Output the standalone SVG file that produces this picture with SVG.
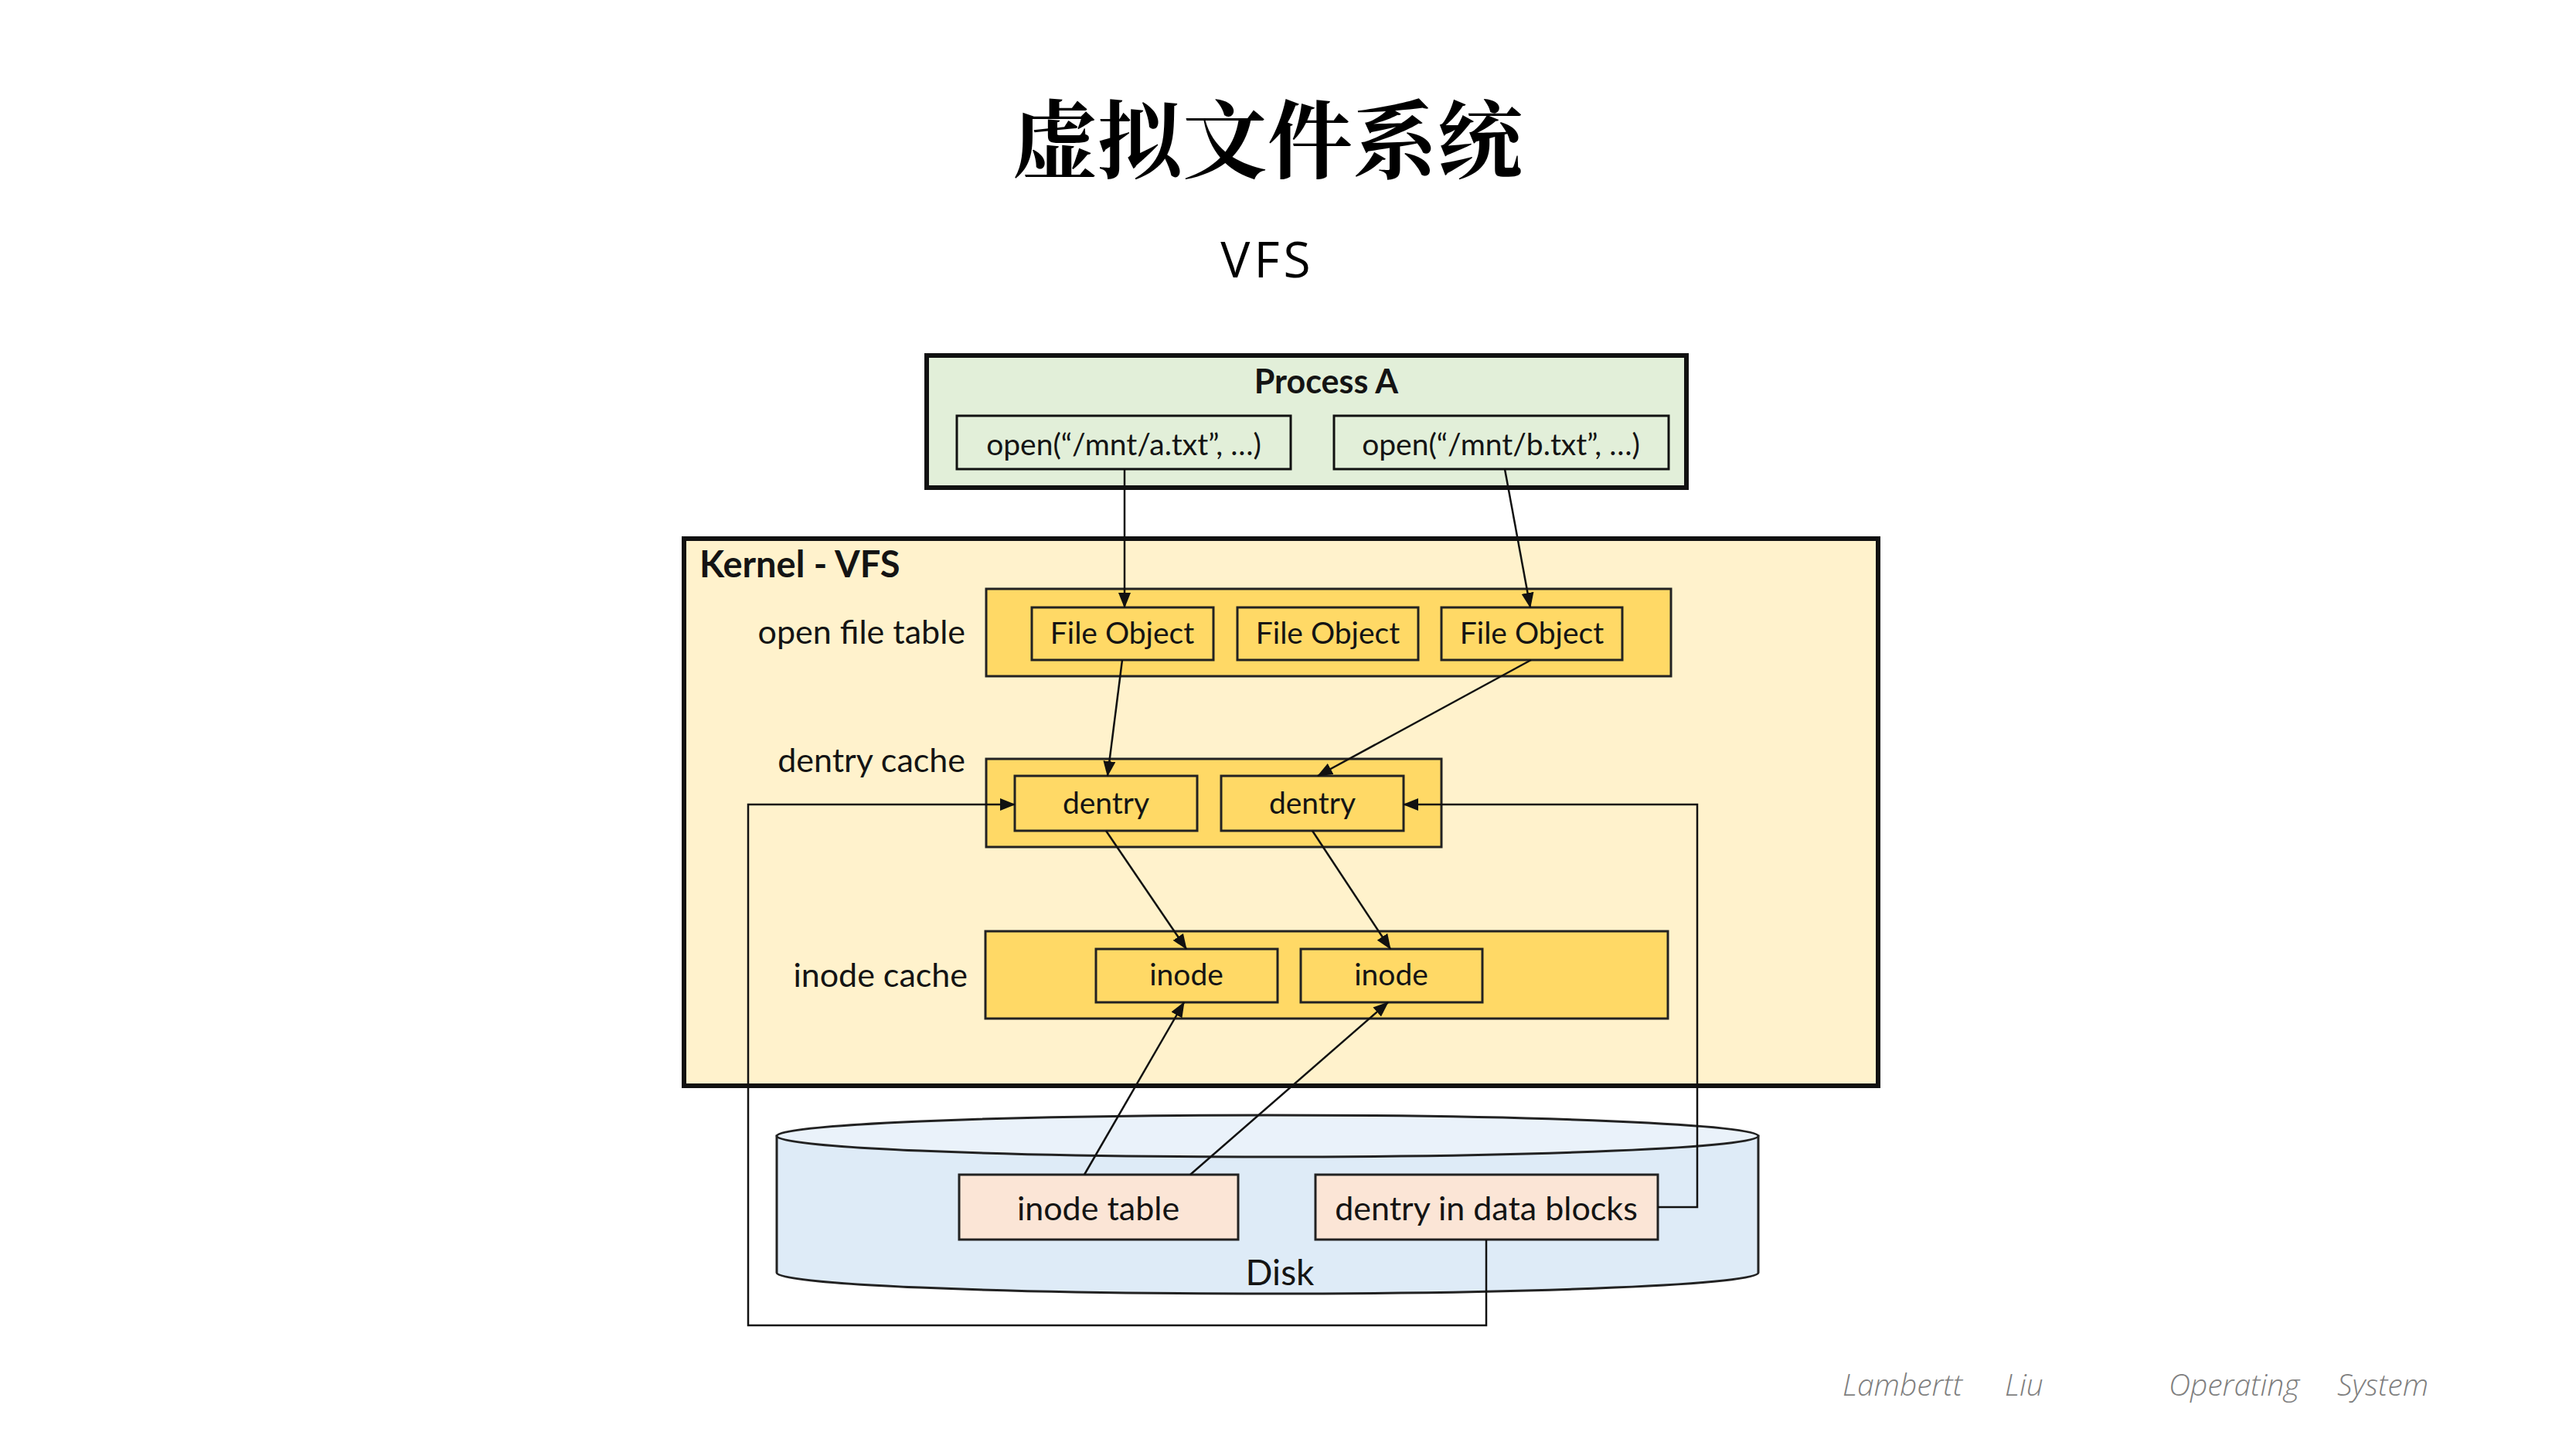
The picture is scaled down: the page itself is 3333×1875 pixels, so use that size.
<svg xmlns="http://www.w3.org/2000/svg" width="3333" height="1875" viewBox="0 0 3333 1875">
<defs>
<marker id="arr" markerUnits="userSpaceOnUse" markerWidth="20" markerHeight="16" viewBox="0 0 20 16" refX="19" refY="8" orient="auto">
<path d="M0,0 L20,8 L0,16 Z" fill="#111"/>
</marker>
</defs>
<style>
.t{font-family:Lato,"Open Sans","Liberation Sans",sans-serif;fill:#141414}
.c{text-anchor:middle}
.lbl{font-size:43px}
.bx{font-size:39px}
.b{font-weight:bold}
.green{fill:#e2efd9;stroke:#111;stroke-width:3}
.gold{fill:#ffd966;stroke:#222;stroke-width:3}
.peach{fill:#fbe5d6;stroke:#222;stroke-width:3}
.con{fill:none;stroke:#111;stroke-width:2.5}
.foot{font-family:"Open Sans","Noto Sans",sans-serif;font-style:italic;font-size:39px;fill:#7f7f7f;font-weight:300}
</style>
<rect width="3333" height="1875" fill="#ffffff"/>

<g id="title">
<text x="1640" y="222" text-anchor="middle" font-family="'Noto Serif CJK SC','Noto Sans CJK SC',serif" font-weight="bold" font-size="110" fill="#000">虚拟文件系统</text>
<text x="1640" y="359" text-anchor="middle" font-family="'Open Sans','Noto Sans',sans-serif" font-size="64" letter-spacing="5" fill="#000">VFS</text>
</g>

<g id="process-a">
<rect x="1199" y="460" width="983" height="171" fill="#e2efd9" stroke="#111" stroke-width="6"/>
<text class="t c b" x="1716" y="509" font-size="43">Process A</text>
</g>
<g id="open-a">
<rect class="green" x="1238" y="538" width="432" height="69"/>
<text class="t c bx" x="1454" y="589">open(“/mnt/a.txt”, …)</text>
</g>
<g id="open-b">
<rect class="green" x="1726" y="538" width="433" height="69"/>
<text class="t c bx" x="1942" y="589">open(“/mnt/b.txt”, …)</text>
</g>

<g id="kernel-vfs">
<rect x="885" y="697" width="1545" height="708" fill="#fff2cc" stroke="#111" stroke-width="6"/>
<text class="t b" x="905" y="747" font-size="47">Kernel - VFS</text>
</g>

<g id="open-file-table">
<text class="t lbl" x="1249" y="833" text-anchor="end">open file table</text>
<rect class="gold" x="1276" y="762" width="886" height="113"/>
</g>
<g id="file-object-1">
<rect class="gold" x="1335" y="786" width="235" height="68"/>
<text class="t c bx" x="1452" y="833">File Object</text>
</g>
<g id="file-object-2">
<rect class="gold" x="1601" y="786" width="234" height="68"/>
<text class="t c bx" x="1718" y="833">File Object</text>
</g>
<g id="file-object-3">
<rect class="gold" x="1865" y="786" width="234" height="68"/>
<text class="t c bx" x="1982" y="833">File Object</text>
</g>

<g id="dentry-cache">
<text class="t lbl" x="1249" y="999" text-anchor="end">dentry cache</text>
<rect class="gold" x="1276" y="982" width="589" height="114"/>
</g>
<g id="dentry-1">
<rect class="gold" x="1313" y="1004" width="236" height="71"/>
<text class="t c bx" x="1431" y="1053">dentry</text>
</g>
<g id="dentry-2">
<rect class="gold" x="1580" y="1004" width="236" height="71"/>
<text class="t c bx" x="1698" y="1053">dentry</text>
</g>

<g id="inode-cache">
<text class="t lbl" x="1252" y="1277" text-anchor="end">inode cache</text>
<rect class="gold" x="1275" y="1205" width="883" height="113"/>
</g>
<g id="inode-1">
<rect class="gold" x="1418" y="1228" width="235" height="69"/>
<text class="t c bx" x="1535" y="1275">inode</text>
</g>
<g id="inode-2">
<rect class="gold" x="1683" y="1228" width="235" height="69"/>
<text class="t c bx" x="1800" y="1275">inode</text>
</g>

<g id="disk">
<path d="M1005,1470 L1005,1647 A635,27 0 0 0 2275,1647 L2275,1470 Z" fill="#deebf7" stroke="#222" stroke-width="3"/>
<ellipse cx="1640" cy="1470" rx="635" ry="27" fill="#eaf2fa" stroke="#222" stroke-width="3"/>
<text class="t c" x="1656" y="1663" font-size="46">Disk</text>
</g>
<g id="inode-table">
<rect class="peach" x="1241" y="1520" width="361" height="84"/>
<text class="t c" x="1421" y="1579" font-size="43">inode table</text>
</g>
<g id="dentry-in-data-blocks">
<rect class="peach" x="1702" y="1520" width="443" height="84"/>
<text class="t c" x="1923" y="1579" font-size="43">dentry in data blocks</text>
</g>

<g id="connectors">
<line class="con" x1="1455" y1="607" x2="1455" y2="786" marker-end="url(#arr)"/>
<line class="con" x1="1947" y1="607" x2="1980" y2="786" marker-end="url(#arr)"/>
<line class="con" x1="1452" y1="854" x2="1433" y2="1004" marker-end="url(#arr)"/>
<line class="con" x1="1981" y1="854" x2="1705" y2="1004" marker-end="url(#arr)"/>
<line class="con" x1="1431" y1="1075" x2="1535" y2="1228" marker-end="url(#arr)"/>
<line class="con" x1="1698" y1="1075" x2="1799" y2="1228" marker-end="url(#arr)"/>
<line class="con" x1="1403" y1="1520" x2="1532" y2="1297" marker-end="url(#arr)"/>
<line class="con" x1="1540" y1="1520" x2="1796" y2="1297" marker-end="url(#arr)"/>
<polyline class="con" points="2145,1562 2196,1562 2196,1041 1816,1041" marker-end="url(#arr)"/>
<polyline class="con" points="1923,1604 1923,1715 968,1715 968,1041 1313,1041" marker-end="url(#arr)"/>
</g>

<g id="footer">
<text class="foot" x="2384" y="1806">Lambertt</text>
<text class="foot" x="2594" y="1806">Liu</text>
<text class="foot" x="2806" y="1806">Operating</text>
<text class="foot" x="3024" y="1806">System</text>
</g>
</svg>
